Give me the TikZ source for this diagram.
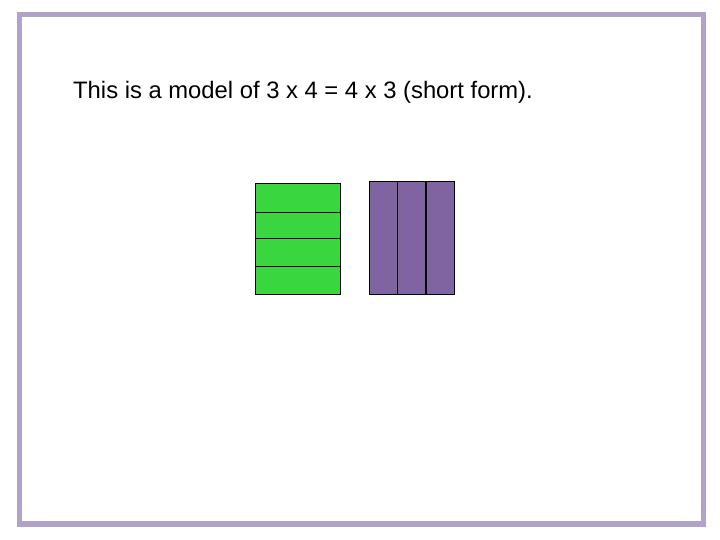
\documentclass[tikz,border=0pt]{standalone}
\usepackage{fontspec}
\setmainfont{Liberation Sans}
\definecolor{frame}{RGB}{177,163,200}
\definecolor{grn}{RGB}{58,214,64}
\definecolor{prp}{RGB}{128,100,162}
\begin{document}
\begin{tikzpicture}[x=1pt,y=-1pt,
  cell/.style={draw=black,line width=1.2pt}]
\useasboundingbox (0,0) rectangle (720,540);
\fill[white] (0,0) rectangle (720,540);
\draw[frame,line width=5.5pt] (19.5,14.5) rectangle (703.5,524);
\node[anchor=base west,inner sep=0pt,font=\fontsize{23.8}{28}\selectfont] (title) at (73,99) {This is a model of 3 x 4 = 4 x 3 (short form).};
% green: 4 horizontal bars
\foreach \a/\b [count=\i] in {183.3/212.3,212.3/238.3,238.3/266.3,266.3/294.3}
  \draw[cell,fill=grn] (255.5,\a) rectangle (340.5,\b) node[midway,inner sep=0pt] (g\i) {};
% purple: 3 vertical bars
\foreach \a/\b [count=\i] in {369.5/397.5,397.5/426,426/454.5}
  \draw[cell,fill=prp] (\a,181.5) rectangle (\b,294.3) node[midway,inner sep=0pt] (p\i) {};
\end{tikzpicture}
\end{document}
